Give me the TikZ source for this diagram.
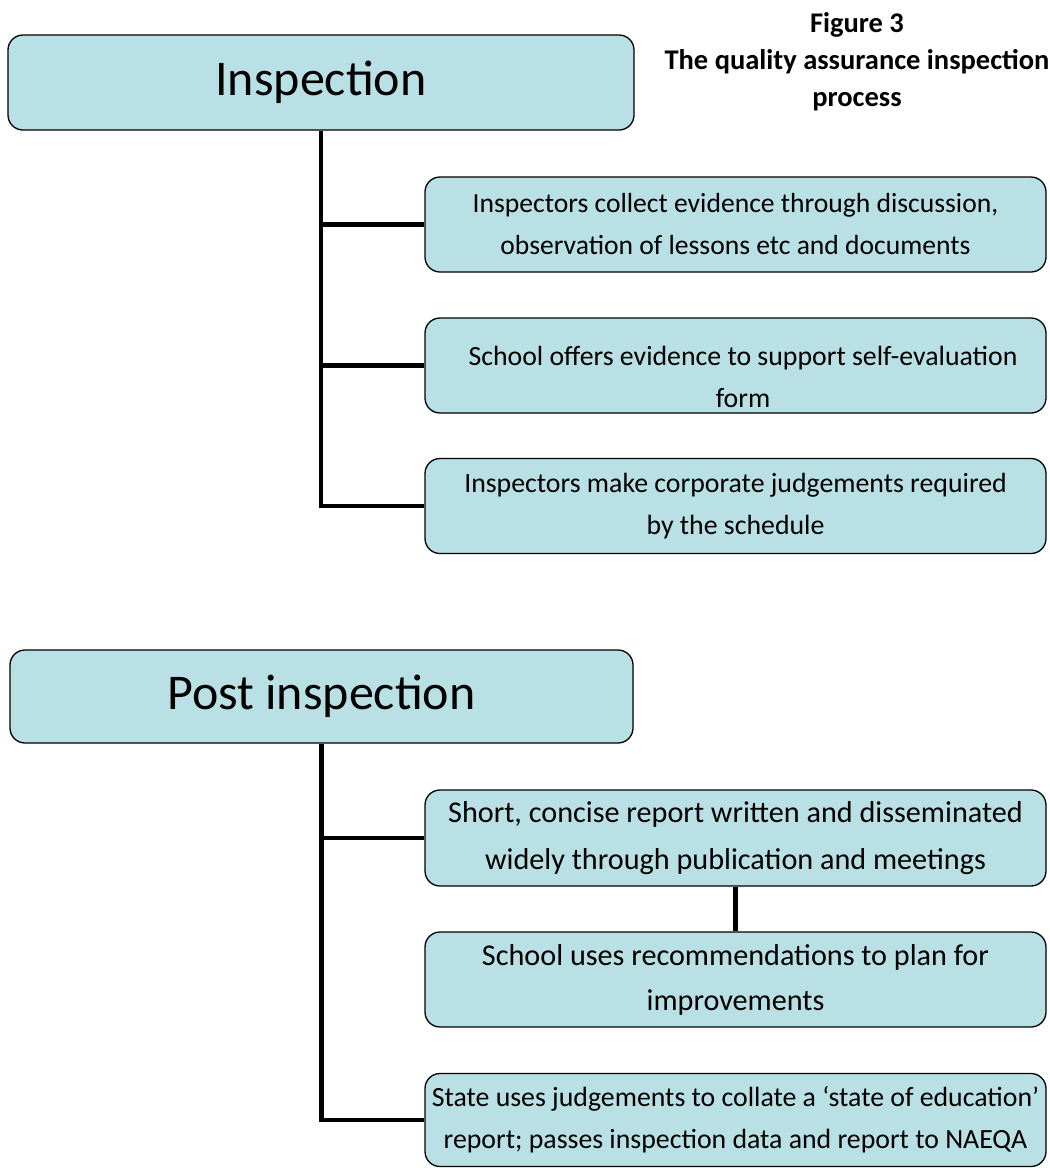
\documentclass[tikz,border=0pt]{standalone}
\usepackage{fontspec}
\setmainfont{Carlito}
\definecolor{boxfill}{RGB}{185,224,228}
\tikzset{
  box/.style={draw=black, line width=1.3pt, fill=boxfill, rounded corners=15pt,
    align=center, inner sep=0pt},
  headbox/.style={box, font=\fontsize{50}{58}\selectfont},
  smallbox/.style={box, minimum width=621pt, minimum height=95pt},
  txt/.style={align=center, inner sep=0pt},
  conn/.style={line width=4.5pt, black}
}
\begin{document}
\begin{tikzpicture}[x=1pt,y=-1pt]
\useasboundingbox (0,0) rectangle (1050,1168);
% title
\node[txt, font=\bfseries\fontsize{28.5}{37}\selectfont] (title) at (857,62)
  {Figure 3\\The quality assurance inspection\\process};
% Inspection part
\node[headbox, minimum width=626pt, minimum height=95pt] (insp) at (321,82.5) {Inspection};
\node[smallbox, font=\fontsize{27.6}{42}\selectfont] (b1) at (735.5,224.5)
  {Inspectors collect evidence through discussion,\\observation of lessons etc and documents};
\node[smallbox] (b2) at (735.5,365.5) {};
\node[txt, font=\fontsize{27.8}{42}\selectfont] (b2t) at (743,377)
  {School offers evidence to support self-evaluation\\form};
\node[smallbox, font=\fontsize{27.8}{42}\selectfont] (b3) at (735.5,506)
  {Inspectors make corporate judgements required\\by the schedule};
\draw[conn] (insp.south) |- (b3.west);
\draw[conn] (insp.south |- b1.west) -- (b1.west);
\draw[conn] (insp.south |- b2.west) -- (b2.west);
% Post inspection part
\node[headbox, minimum width=623pt, minimum height=93pt] (post) at (321.5,696.5) {Post inspection};
\node[smallbox, minimum height=96pt, font=\fontsize{30.2}{47}\selectfont] (b4) at (735.5,838)
  {Short, concise report written and disseminated\\widely through publication and meetings};
\node[smallbox, font=\fontsize{30.2}{45}\selectfont] (b5) at (735.5,979.5)
  {School uses recommendations to plan for\\improvements};
\node[smallbox, minimum height=93pt, font=\fontsize{27.8}{42}\selectfont] (b6) at (735.5,1120)
  {State uses judgements to collate a ‘state of education’\\report; passes inspection data and report to NAEQA};
\draw[conn] (post.south) |- (b6.west);
\draw[conn] (post.south |- b4.west) -- (b4.west);
\draw[conn] (b4.south) -- (b5.north);
\end{tikzpicture}
\end{document}
